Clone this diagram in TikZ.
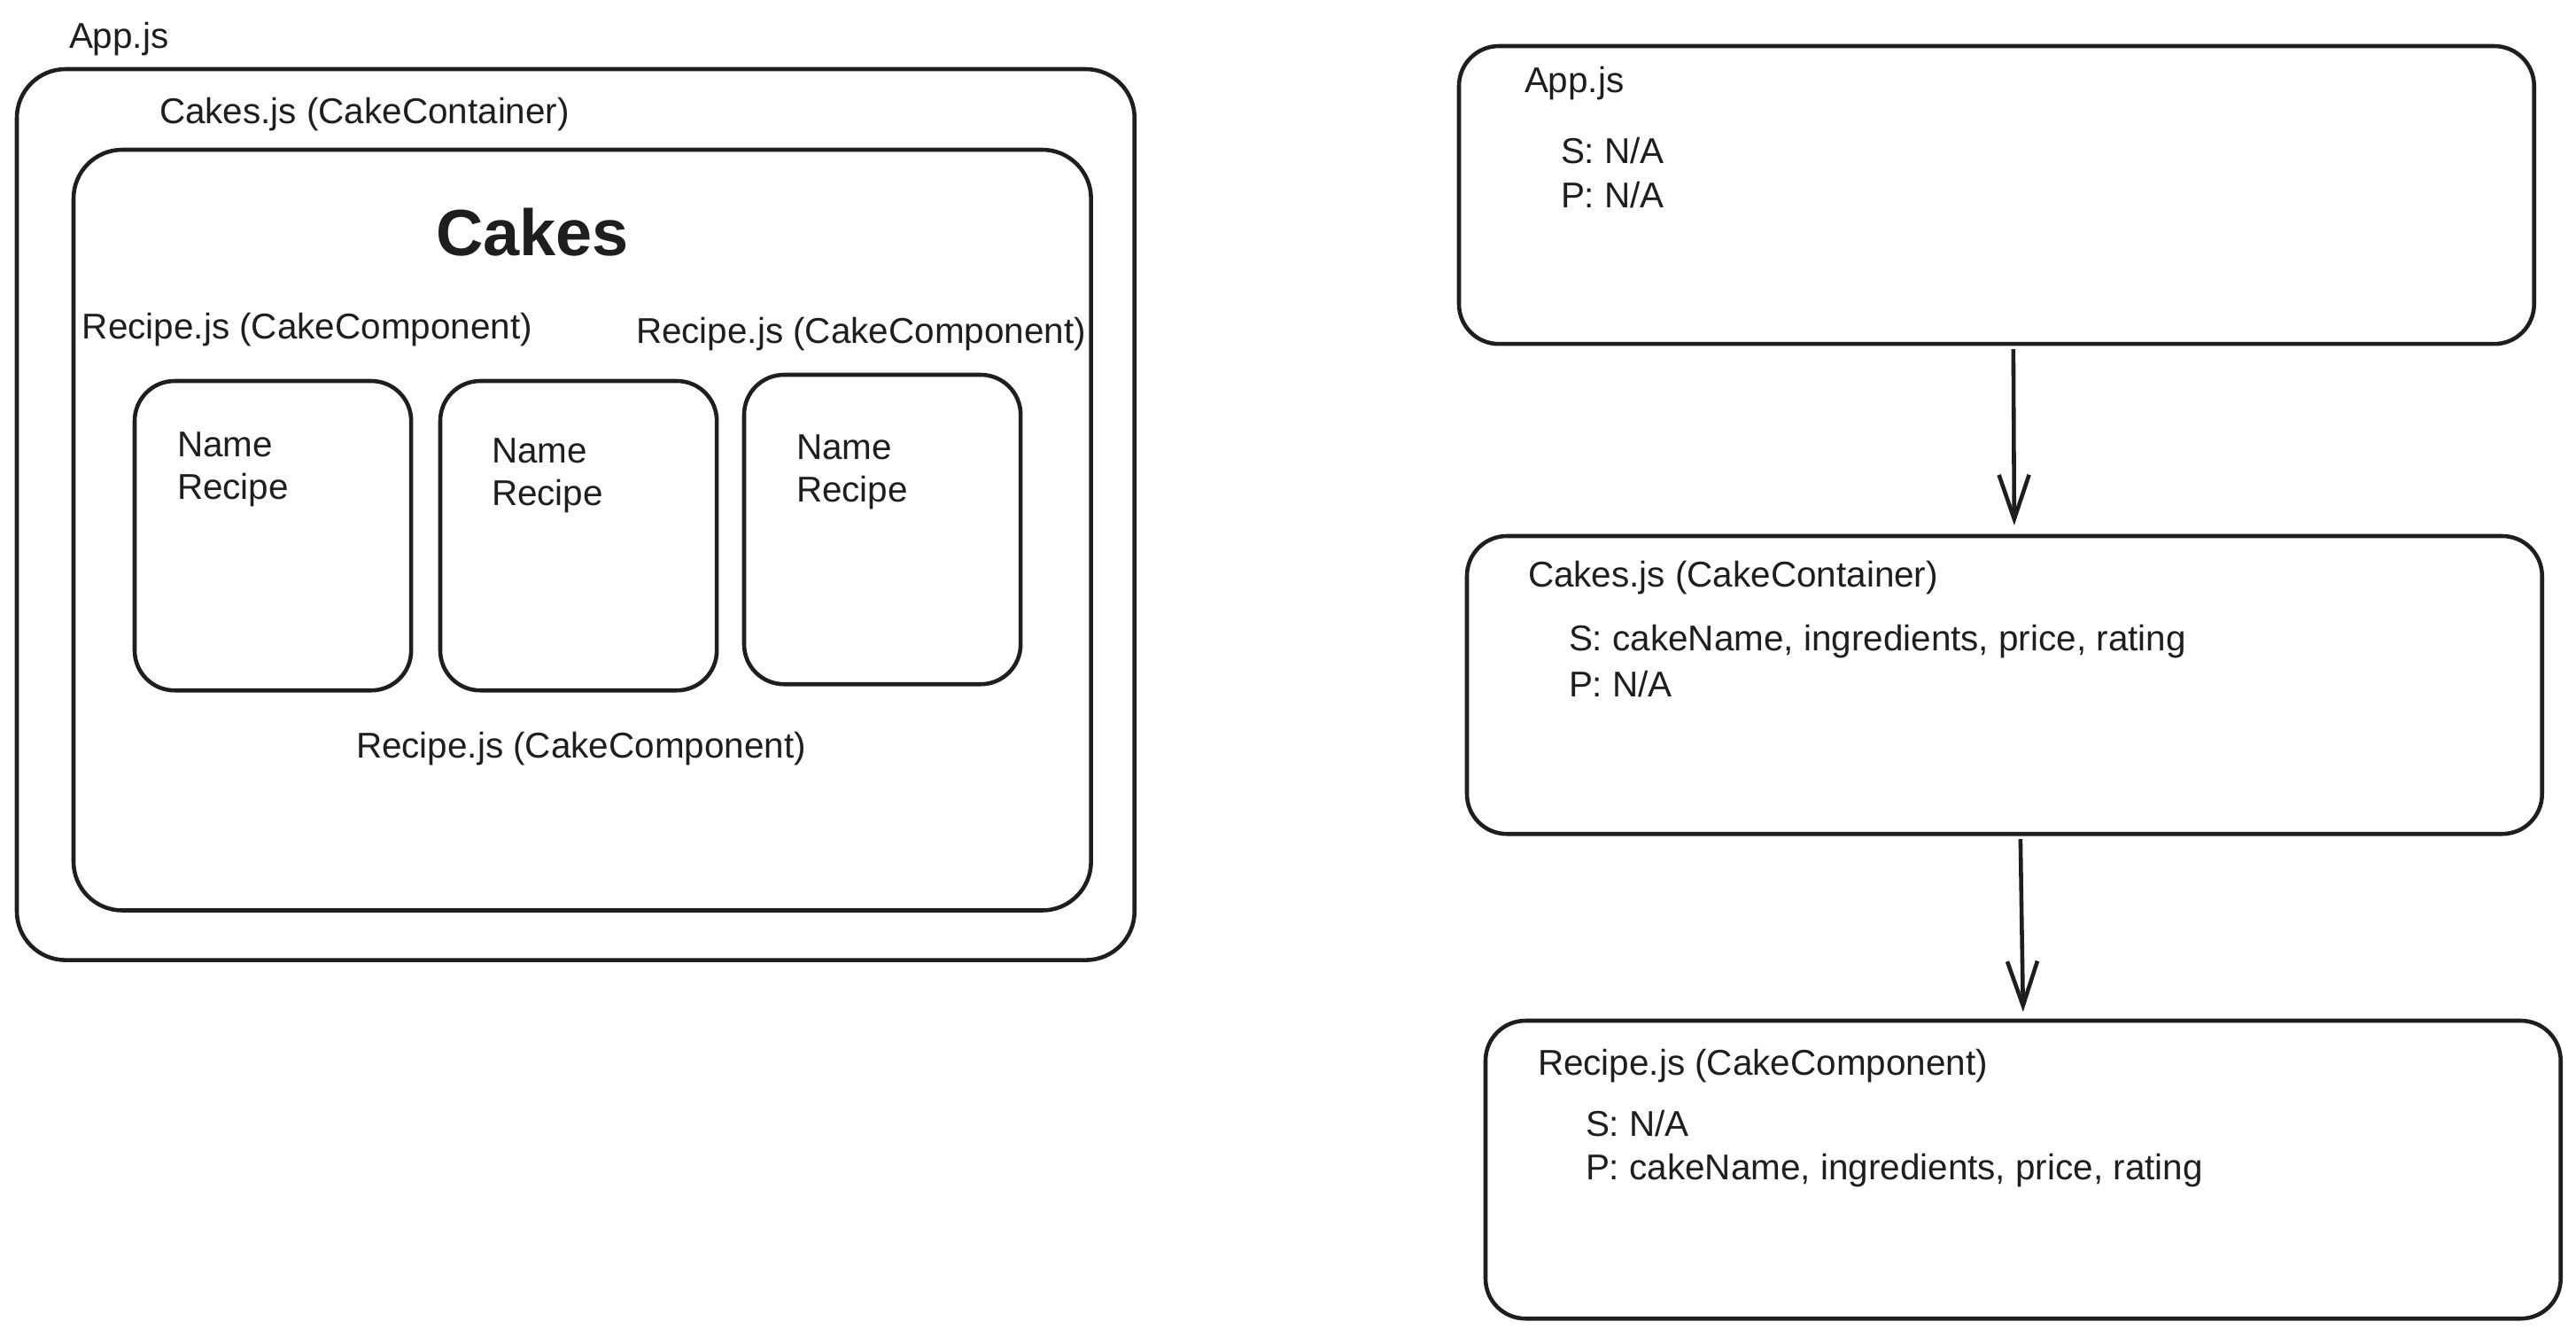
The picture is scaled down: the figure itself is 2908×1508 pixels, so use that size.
\documentclass[tikz,border=0pt]{standalone}
\usepackage{fontspec}
\setmainfont{Liberation Sans}
\usetikzlibrary{arrows.meta}
\definecolor{ink}{HTML}{1E1E1E}
\begin{document}
\begin{tikzpicture}[x=0.01cm,y=-0.01cm,
  every node/.style={inner sep=0pt, outer sep=0pt, text=ink},
  lbl/.style={anchor=west, font=\fontsize{11.5}{14}\selectfont},
  big/.style={font=\fontsize{21}{25}\selectfont\bfseries},
  frame/.style={draw=ink, line width=1.3pt, anchor=north west, rounded corners=0.55cm},
  card/.style={draw=ink, line width=1.3pt, anchor=north west, rounded corners=0.45cm,
               minimum width=3.12cm, minimum height=3.49cm},
  pbox/.style={draw=ink, line width=1.3pt, anchor=north west, rounded corners=0.45cm,
               minimum width=12.13cm, minimum height=3.36cm},
  arr/.style={draw=ink, line width=1.3pt, -{Straight Barb[length=0.5cm,width=0.34cm,line width=1.3pt]}}
]
\fill[white] (0,0) rectangle (2908,1508);
\useasboundingbox (0,0) rectangle (2908,1508);

% ---------- left: layout sketch ----------
\node[lbl] (appL) at (78,44) {App.js};
\node[frame, minimum width=12.61cm, minimum height=10.05cm] (outer) at (19,78) {};
\node[lbl] (cakesL) at (180,129) {Cakes.js (CakeContainer)};
\node[frame, minimum width=11.48cm, minimum height=8.58cm] (inner) at (83,169) {};
\node[big] (title) at (601,262) {Cakes};
\node[lbl] (rl1) at (93,372) {Recipe.js (CakeComponent)};
\node[lbl] (rl2) at (718,377) {Recipe.js (CakeComponent)};

\node[card] (c1) at (152,430) {};
\node[card] (c2) at (497,430) {};
\node[card] (c3) at (840,423) {};

\node[lbl] (n1) at (200,502) {Name};
\node[lbl] (r1) at (200,553) {Recipe};
\node[lbl] (n2) at (555,509) {Name};
\node[lbl] (r2) at (555,560) {Recipe};
\node[lbl] (n3) at (899,505) {Name};
\node[lbl] (r3) at (899,556) {Recipe};

\node[lbl] (rl3) at (402,845) {Recipe.js (CakeComponent)};

% ---------- right: component tree ----------
\node[pbox] (b1) at (1647,52) {};
\node[lbl] (b1t) at (1721,94) {App.js};
\node[lbl] (b1s) at (1762,170) {S: N/A};
\node[lbl] (b1p) at (1762,220) {P: N/A};

\node[pbox] (b2) at (1656,605) {};
\node[lbl] (b2t) at (1725,652) {Cakes.js (CakeContainer)};
\node[lbl] (b2s) at (1771,724) {S: cakeName, ingredients, price, rating};
\node[lbl] (b2p) at (1771,772) {P: N/A};

\node[pbox] (b3) at (1677,1152) {};
\node[lbl] (b3t) at (1736,1203) {Recipe.js (CakeComponent)};
\node[lbl] (b3s) at (1790,1268) {S: N/A};
\node[lbl] (b3p) at (1790,1321) {P: cakeName, ingredients, price, rating};

\draw[arr] ([xshift=0.19cm,yshift=-0.06cm]b1.south) -- ([xshift=0.11cm,yshift=0.12cm]b2.north);
\draw[arr] ([xshift=0.18cm,yshift=-0.06cm]b2.south) -- ([xshift=0cm,yshift=0.1cm]b3.north);
\end{tikzpicture}
\end{document}
